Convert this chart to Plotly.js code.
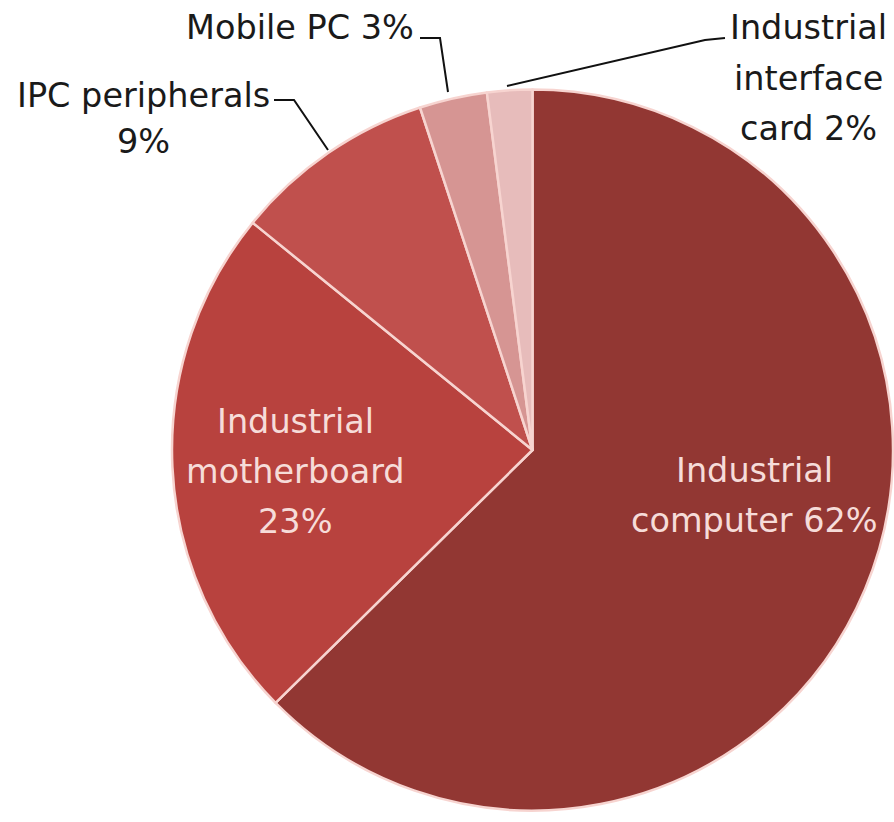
<!DOCTYPE html>
<html>
<head>
<meta charset="utf-8">
<script src="https://cdn.plot.ly/plotly-3.0.1.min.js"></script>
<style>html,body{margin:0;padding:0;background:#fff;}#chart{width:894px;height:822px;}</style>
</head>
<body>
<div id="chart"></div>
<script>
// Data
const categories = ["Industrial computer", "Industrial motherboard", "IPC peripherals", "Mobile PC", "Industrial interface card"];
const shares = [62, 23, 9, 3, 2];
const sliceColors = ["#923733", "#b8423e", "#c0504d", "#d69593", "#e7bcbb"];

// label text lines (as they appear)
const labelLines = [
  ["Industrial", "computer 62%"],
  ["Industrial", "motherboard", "23%"],
  ["IPC peripherals", "9%"],
  ["Mobile PC 3%"],
  ["Industrial", "interface", "card 2%"]
];

const W = 894, H = 822;
const px = x => x / W;
const py = y => 1 - y / H;

// label anchor (pixel centers of first line) and line spacing
const labelPos = [
  {x: 754, y: 470, color: "#f6dcd9"},
  {x: 295, y: 421, color: "#f6dcd9"},
  {x: 143, y: 95, color: "#1a1a1a"},
  {x: 300, y: 27, color: "#1a1a1a"},
  {x: 808, y: 28, color: "#1a1a1a"}
];
const lineGap = [50, 50, 46, 0, 50];
const labelSize = 33.5;

const annotations = [];
labelLines.forEach((lines, i) => {
  lines.forEach((t, j) => {
    annotations.push({
      xref: "paper", yref: "paper",
      x: px(labelPos[i].x), y: py(labelPos[i].y + j * lineGap[i]),
      text: t, showarrow: false,
      xanchor: "center", yanchor: "middle",
      font: {family: "DejaVu Sans", size: labelSize, color: labelPos[i].color}
    });
  });
});

// leader lines
const leaders = [
  [[274,100],[294,100],[328,150]],
  [[420,38],[440,38],[448,92]],
  [[725,38],[705,40],[507,86]]
];
const shapes = leaders.map(pts => ({
  type: "path", xref: "paper", yref: "paper",
  path: pts.map((p, k) => (k ? "L" : "M") + px(p[0]) + "," + py(p[1])).join(" "),
  line: {color: "#111", width: 2}
}));

const trace = {
  type: "pie",
  labels: categories,
  values: shares,
  sort: false,
  direction: "clockwise",
  rotation: 0,
  textinfo: "none",
  hoverinfo: "label+percent",
  marker: {colors: sliceColors, line: {color: "#f7d4d0", width: 2.5}},
  domain: {x: [172 / W, 893 / W], y: [1 - 812 / H, 1 - 88 / H]},
  showlegend: false
};

const layout = {
  width: W, height: H,
  margin: {l: 0, r: 0, t: 0, b: 0},
  paper_bgcolor: "#ffffff",
  showlegend: false,
  annotations: annotations,
  shapes: shapes
};

Plotly.newPlot("chart", [trace], layout, {displayModeBar: false, staticPlot: true});
</script>
</body>
</html>
